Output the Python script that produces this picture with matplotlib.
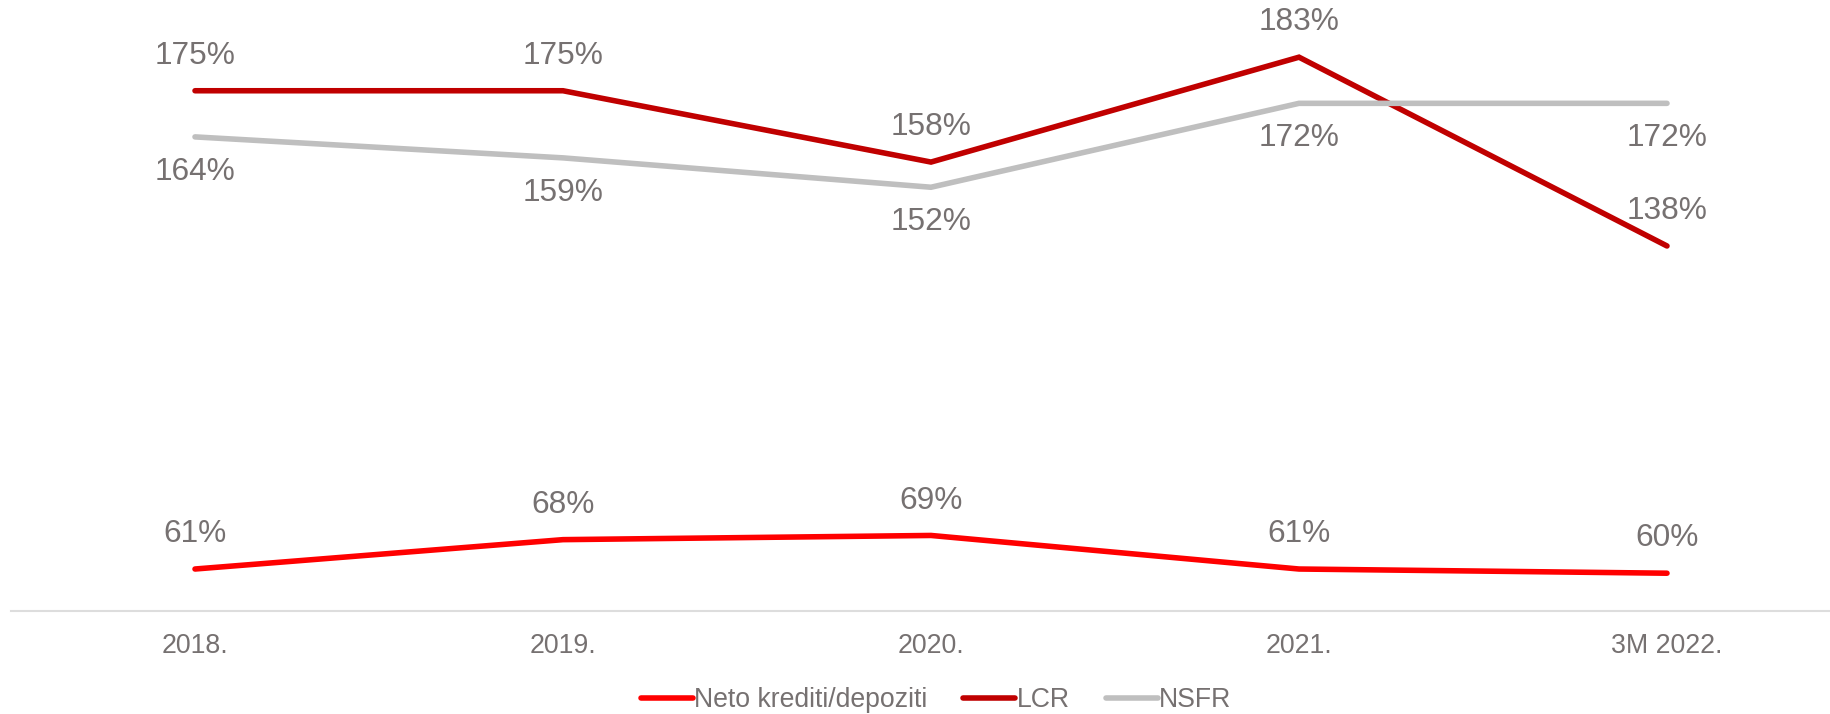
import matplotlib
matplotlib.use("Agg")
import matplotlib.pyplot as plt

plt.rcParams['font.family'] = ['Liberation Sans', 'DejaVu Sans']

# data
categories = ['2018.', '2019.', '2020.', '2021.', '3M 2022.']
neto_krediti = [61, 68, 69, 61, 60]
lcr = [175, 175, 158, 183, 138]
nsfr = [164, 159, 152, 172, 172]

TEXT = '#767171'

fig = plt.figure(figsize=(18.3, 7.14), dpi=100)
ax = fig.add_axes([11 / 1830, 0.1443, 1840 / 1830, 0.8755])

x = range(len(categories))
series = [
    ('Neto krediti/depoziti', neto_krediti, '#FF0000', 1),
    ('LCR', lcr, '#C00000', 1),
    ('NSFR', nsfr, '#BFBFBF', -1),
]
for name, vals, color, side in series:
    ax.plot(x, vals, color=color, lw=4.0, solid_capstyle='round',
            solid_joinstyle='miter', label=name)
    for xi, v in zip(x, vals):
        ax.annotate(f'{v}%', (xi, v), xytext=(0, 25 * side), textcoords='offset points',
                    ha='center', va='center', fontsize=22.8, color=TEXT)

ax.set_xlim(-0.5, len(categories) - 0.5)
ax.set_ylim(51, 200)
ax.set_xticks(list(x))
ax.set_xticklabels(categories, fontsize=19.3, color=TEXT)
ax.set_yticks([])
ax.tick_params(axis='x', length=0, pad=16)
for side in ['top', 'left', 'right']:
    ax.spines[side].set_visible(False)
ax.spines['bottom'].set_color('#DDDDDD')
ax.spines['bottom'].set_linewidth(1.5)

leg = fig.legend(loc='center', bbox_to_anchor=(936 / 1830, 1 - 700 / 714), ncol=3,
                 frameon=False, fontsize=19.2, handlelength=1.95, handletextpad=0.05,
                 columnspacing=1.35, borderpad=0)
for t in leg.get_texts():
    t.set_color(TEXT)

fig.savefig('out.png', dpi=100)
